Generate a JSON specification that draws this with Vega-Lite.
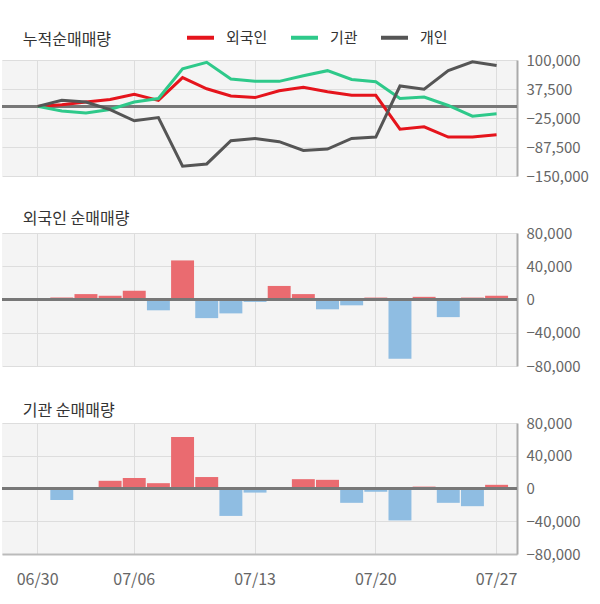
{
  "$schema": "https://vega.github.io/schema/vega-lite/v6.json",
  "padding": {"left": 0, "top": 22, "right": 4, "bottom": 12},
  "background": "white",
  "config": {
    "view": {"fill": "#f4f4f4", "stroke": null},
    "font": "Noto Sans CJK KR",
    "axis": {"labelFont": "Noto Sans CJK KR", "labelColor": "#666666", "labelFontSize": 15, "gridColor": "#dddddd", "gridWidth": 1, "ticks": false, "title": null, "labelOverlap": false},
    "title": {"font": "Noto Sans CJK KR", "fontSize": 16, "fontWeight": "normal", "color": "#333333", "anchor": "start", "dx": 22}
  },
  "datasets": {
    "cum": [
      {"date": "06/30", "investor": "외국인", "value": 0},
      {"date": "07/01", "investor": "외국인", "value": 3600},
      {"date": "07/02", "investor": "외국인", "value": 9500},
      {"date": "07/03", "investor": "외국인", "value": 15000},
      {"date": "07/06", "investor": "외국인", "value": 26000},
      {"date": "07/07", "investor": "외국인", "value": 13000},
      {"date": "07/08", "investor": "외국인", "value": 62000},
      {"date": "07/09", "investor": "외국인", "value": 38000},
      {"date": "07/10", "investor": "외국인", "value": 22600},
      {"date": "07/13", "investor": "외국인", "value": 19000},
      {"date": "07/14", "investor": "외국인", "value": 33600},
      {"date": "07/15", "investor": "외국인", "value": 41000},
      {"date": "07/16", "investor": "외국인", "value": 31400},
      {"date": "07/17", "investor": "외국인", "value": 24000},
      {"date": "07/20", "investor": "외국인", "value": 24000},
      {"date": "07/21", "investor": "외국인", "value": -49000},
      {"date": "07/22", "investor": "외국인", "value": -44000},
      {"date": "07/23", "investor": "외국인", "value": -66000},
      {"date": "07/24", "investor": "외국인", "value": -66000},
      {"date": "07/27", "investor": "외국인", "value": -61000},
      {"date": "06/30", "investor": "기관", "value": 0},
      {"date": "07/01", "investor": "기관", "value": -10000},
      {"date": "07/02", "investor": "기관", "value": -14000},
      {"date": "07/03", "investor": "기관", "value": -6600},
      {"date": "07/06", "investor": "기관", "value": 9500},
      {"date": "07/07", "investor": "기관", "value": 17000},
      {"date": "07/08", "investor": "기관", "value": 81000},
      {"date": "07/09", "investor": "기관", "value": 95000},
      {"date": "07/10", "investor": "기관", "value": 59000},
      {"date": "07/13", "investor": "기관", "value": 54000},
      {"date": "07/14", "investor": "기관", "value": 54000},
      {"date": "07/15", "investor": "기관", "value": 66000},
      {"date": "07/16", "investor": "기관", "value": 77000},
      {"date": "07/17", "investor": "기관", "value": 58000},
      {"date": "07/20", "investor": "기관", "value": 53000},
      {"date": "07/21", "investor": "기관", "value": 17000},
      {"date": "07/22", "investor": "기관", "value": 20000},
      {"date": "07/23", "investor": "기관", "value": 2000},
      {"date": "07/24", "investor": "기관", "value": -21000},
      {"date": "07/27", "investor": "기관", "value": -16000},
      {"date": "06/30", "investor": "개인", "value": 0},
      {"date": "07/01", "investor": "개인", "value": 13000},
      {"date": "07/02", "investor": "개인", "value": 9500},
      {"date": "07/03", "investor": "개인", "value": -7000},
      {"date": "07/06", "investor": "개인", "value": -31000},
      {"date": "07/07", "investor": "개인", "value": -24000},
      {"date": "07/08", "investor": "개인", "value": -129000},
      {"date": "07/09", "investor": "개인", "value": -124000},
      {"date": "07/10", "investor": "개인", "value": -74000},
      {"date": "07/13", "investor": "개인", "value": -69000},
      {"date": "07/14", "investor": "개인", "value": -76000},
      {"date": "07/15", "investor": "개인", "value": -95000},
      {"date": "07/16", "investor": "개인", "value": -92000},
      {"date": "07/17", "investor": "개인", "value": -69000},
      {"date": "07/20", "investor": "개인", "value": -66000},
      {"date": "07/21", "investor": "개인", "value": 44000},
      {"date": "07/22", "investor": "개인", "value": 37000},
      {"date": "07/23", "investor": "개인", "value": 77000},
      {"date": "07/24", "investor": "개인", "value": 96000},
      {"date": "07/27", "investor": "개인", "value": 88000}
    ],
    "daily": [
      {"date": "06/30", "foreign": 0, "inst": 0},
      {"date": "07/01", "foreign": 2300, "inst": -14000},
      {"date": "07/02", "foreign": 6500, "inst": 0},
      {"date": "07/03", "foreign": 4500, "inst": 9400},
      {"date": "07/06", "foreign": 10600, "inst": 12700},
      {"date": "07/07", "foreign": -13000, "inst": 6500},
      {"date": "07/08", "foreign": 47000, "inst": 63000},
      {"date": "07/09", "foreign": -22400, "inst": 14000},
      {"date": "07/10", "foreign": -16700, "inst": -33500},
      {"date": "07/13", "foreign": -2900, "inst": -5000},
      {"date": "07/14", "foreign": 16300, "inst": 0},
      {"date": "07/15", "foreign": 6500, "inst": 11400},
      {"date": "07/16", "foreign": -11800, "inst": 10600},
      {"date": "07/17", "foreign": -7000, "inst": -17500},
      {"date": "07/20", "foreign": 2300, "inst": -4000},
      {"date": "07/21", "foreign": -71400, "inst": -39000},
      {"date": "07/22", "foreign": 3200, "inst": 2300},
      {"date": "07/23", "foreign": -21200, "inst": -17500},
      {"date": "07/24", "foreign": 2300, "inst": -21600},
      {"date": "07/27", "foreign": 4500, "inst": 4500}
    ]
  },
  "bounds": "flush",
  "spacing": 57,
  "vconcat": [
    {
      "width": 515,
      "height": 116,
      "title": {"text": "누적순매매량", "offset": 5},
      "data": {"name": "cum"},
      "encoding": {
        "x": {
          "field": "date", "type": "ordinal", "sort": null,
          "scale": {"type": "band", "paddingInner": 0.05, "paddingOuter": 0.685, "align": 0.73},
          "axis": {"values": ["06/30", "07/06", "07/13", "07/20", "07/27"], "grid": true, "labels": false, "domain": false, "bandPosition": 0.5}
        }
      },
      "layer": [
        {
          "mark": {"type": "rule", "color": "#777777", "strokeWidth": 2.5},
          "encoding": {"y": {"datum": 0, "type": "quantitative"}, "x": null}
        },
        {
          "mark": {"type": "line", "strokeWidth": 3},
          "encoding": {
            "y": {
              "field": "value", "type": "quantitative",
              "scale": {"domain": [-150000, 100000], "nice": false},
              "axis": {"orient": "right", "values": [-150000, -87500, -25000, 37500, 100000], "tickCount": 20, "format": ",d", "grid": true, "domain": true, "domainColor": "#aaaaaa", "domainWidth": 2, "labelPadding": 9, "labelOverlap": false}
            },
            "color": {
              "field": "investor", "type": "nominal",
              "scale": {"domain": ["외국인", "기관", "개인"], "range": ["#e5141c", "#2ec98a", "#555555"]},
              "legend": {"orient": "none", "legendX": 183, "legendY": -38, "direction": "horizontal", "title": null, "symbolType": "stroke", "symbolSize": 729, "symbolStrokeWidth": 4, "labelFontSize": 15, "labelColor": "#333333", "labelFont": "Noto Sans CJK KR", "labelOffset": 10, "columnPadding": 15}
            }
          }
        }
      ]
    },
    {
      "width": 515,
      "height": 133,
      "title": {"text": "외국인 순매매량", "offset": -1},
      "data": {"name": "daily"},
      "encoding": {
        "x": {
          "field": "date", "type": "ordinal", "sort": null,
          "scale": {"type": "band", "paddingInner": 0.05, "paddingOuter": 0.685, "align": 0.73},
          "axis": {"values": ["06/30", "07/06", "07/13", "07/20", "07/27"], "grid": true, "labels": false, "domain": false, "bandPosition": 0.5}
        }
      },
      "layer": [
        {
          "mark": {"type": "bar"},
          "encoding": {
            "y": {
              "field": "foreign", "type": "quantitative",
              "scale": {"domain": [-80000, 80000], "nice": false},
              "axis": {"orient": "right", "values": [-80000, -40000, 0, 40000, 80000], "tickCount": 20, "format": ",d", "grid": true, "domain": true, "domainColor": "#aaaaaa", "domainWidth": 2, "labelPadding": 9, "labelOverlap": false}
            },
            "color": {"condition": {"test": "datum.foreign > 0", "value": "#ea6b70"}, "value": "#8fbde2"}
          }
        },
        {
          "mark": {"type": "rule", "color": "#777777", "strokeWidth": 2.5},
          "encoding": {"y": {"datum": 0, "type": "quantitative"}, "x": null}
        }
      ]
    },
    {
      "width": 515,
      "height": 131,
      "title": {"text": "기관 순매매량", "offset": -3},
      "data": {"name": "daily"},
      "encoding": {
        "x": {
          "field": "date", "type": "ordinal", "sort": null,
          "scale": {"type": "band", "paddingInner": 0.05, "paddingOuter": 0.685, "align": 0.73},
          "axis": {"values": ["06/30", "07/06", "07/13", "07/20", "07/27"], "grid": true, "labels": true, "labelAngle": 0, "labelFontSize": 16, "labelPadding": 17, "domain": true, "domainColor": "#bbbbbb", "domainWidth": 2, "bandPosition": 0.5}
        }
      },
      "layer": [
        {
          "mark": {"type": "bar"},
          "encoding": {
            "y": {
              "field": "inst", "type": "quantitative",
              "scale": {"domain": [-80000, 80000], "nice": false},
              "axis": {"orient": "right", "values": [-80000, -40000, 0, 40000, 80000], "tickCount": 20, "format": ",d", "grid": true, "domain": true, "domainColor": "#aaaaaa", "domainWidth": 2, "labelPadding": 9, "labelOverlap": false}
            },
            "color": {"condition": {"test": "datum.inst > 0", "value": "#ea6b70"}, "value": "#8fbde2"}
          }
        },
        {
          "mark": {"type": "rule", "color": "#777777", "strokeWidth": 2.5},
          "encoding": {"y": {"datum": 0, "type": "quantitative"}, "x": null}
        }
      ]
    }
  ]
}
